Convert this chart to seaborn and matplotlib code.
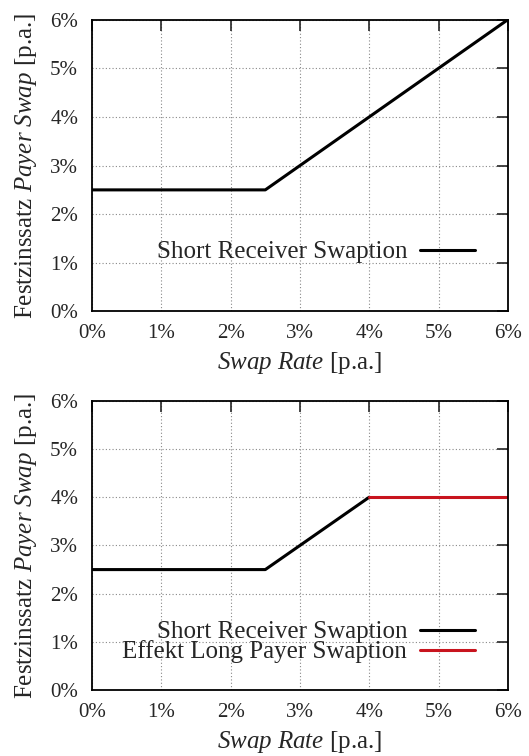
import numpy as np
import pandas as pd
import seaborn as sns
import matplotlib.pyplot as plt

sns.set_style("white")
plt.rcParams['font.family'] = ['Liberation Serif', 'DejaVu Serif']
plt.rcParams['mathtext.fontset'] = 'custom'
plt.rcParams['mathtext.it'] = 'Liberation Serif:italic'
plt.rcParams['mathtext.rm'] = 'Liberation Serif'

# Data (in %)
swap_rate = [0, 2.5, 4, 6]
short_receiver_top = [2.5, 2.5, 4, 6]
short_receiver_bottom_x = [0, 2.5, 4]
short_receiver_bottom_y = [2.5, 2.5, 4]
long_payer_x = [4, 6]
long_payer_y = [4, 4]
ticks = [0, 1, 2, 3, 4, 5, 6]
tick_labels = [f"{t}%" for t in ticks]

fig = plt.figure(figsize=(5.29, 7.56), dpi=100)
ax1 = fig.add_axes([0.174, 0.588, 0.786, 0.386])
ax2 = fig.add_axes([0.174, 0.087, 0.786, 0.383])

sns.lineplot(x=swap_rate, y=short_receiver_top, ax=ax1, color="black",
             linewidth=2.2, label="Short Receiver Swaption")
sns.lineplot(x=short_receiver_bottom_x, y=short_receiver_bottom_y, ax=ax2,
             color="black", linewidth=2.2, label="Short Receiver Swaption")
sns.lineplot(x=long_payer_x, y=long_payer_y, ax=ax2, color="#c8141e",
             linewidth=2.2, label="Effekt Long Payer Swaption")

for ax, ly in [(ax1, 0.165), (ax2, 0.093)]:
    ax.set_xlim(0, 6)
    ax.set_ylim(0, 6)
    ax.set_xticks(ticks)
    ax.set_yticks(ticks)
    ax.set_xticklabels(tick_labels)
    ax.set_yticklabels(tick_labels)
    ax.tick_params(direction="in", length=8, width=1.2, top=True, right=True,
                   labelsize=15, pad=9)
    ax.tick_params(axis="y", pad=10)
    ax.grid(True, linestyle=(0, (1, 2)), color="#888888", linewidth=0.8)
    for s in ax.spines.values():
        s.set_color("black")
        s.set_linewidth(1.3)
    ax.set_xlabel(r"$\it{Swap\ Rate}$ [p.a.]", fontsize=18, labelpad=5)
    ax.set_ylabel(r"Festzinssatz $\it{Payer\ Swap}$ [p.a.]", fontsize=18, labelpad=8)
    ax.legend(loc="lower right", bbox_to_anchor=(0.92, ly), frameon=False,
              markerfirst=False, fontsize=18, handlelength=2.2, handletextpad=0.5,
              borderpad=0, borderaxespad=0, labelspacing=-0.12)

fig.savefig("out.png", dpi=100)
